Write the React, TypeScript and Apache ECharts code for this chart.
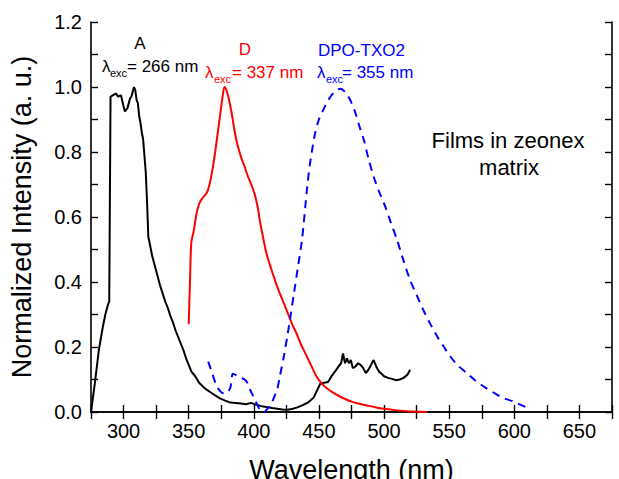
import React, { useEffect, useRef } from "react";
import * as echarts from "echarts";

const xTicks = [300, 350, 400, 450, 500, 550, 600, 650];
const yTicks = [0, 0.2, 0.4, 0.6, 0.8, 1.0, 1.2];

const aWl = [275, 278, 281, 284, 286, 288, 289, 290, 292, 294, 296, 298, 300, 301, 303, 305, 306, 307, 308, 309, 310, 311, 312, 313, 314, 315, 316, 317, 318, 319, 320, 322, 324, 326, 328, 330, 332, 334, 336, 338, 340, 342, 344, 346, 348, 350, 352, 355, 358, 361, 364, 367, 370, 374, 378, 382, 386, 390, 394, 398, 402, 406, 410, 414, 418, 422, 426, 430, 434, 438, 442, 446, 449, 451, 454, 457, 460, 463, 465, 467, 468.5, 470, 471.5, 473, 474.5, 476, 478, 480, 482, 484, 486, 488, 490, 492, 494, 496, 498, 500, 503, 506, 509, 512, 515, 518, 520];
const aVal = [0.0, 0.09, 0.19, 0.26, 0.3, 0.33, 0.34, 0.97, 0.975, 0.98, 0.97, 0.975, 0.94, 0.925, 0.935, 0.965, 0.97, 0.985, 1.0, 0.99, 0.96, 0.95, 0.91, 0.89, 0.86, 0.84, 0.79, 0.74, 0.65, 0.54, 0.52, 0.48, 0.45, 0.42, 0.39, 0.365, 0.34, 0.32, 0.295, 0.275, 0.25, 0.23, 0.21, 0.19, 0.165, 0.145, 0.125, 0.11, 0.09, 0.078, 0.068, 0.06, 0.052, 0.042, 0.035, 0.029, 0.028, 0.026, 0.024, 0.028, 0.022, 0.018, 0.015, 0.012, 0.01, 0.008, 0.007, 0.01, 0.015, 0.022, 0.03, 0.045, 0.07, 0.087, 0.09, 0.092, 0.112, 0.128, 0.14, 0.15, 0.18, 0.15, 0.165, 0.15, 0.16, 0.135, 0.14, 0.15, 0.145, 0.135, 0.12, 0.13, 0.145, 0.16, 0.14, 0.125, 0.118, 0.11, 0.105, 0.102, 0.098, 0.1, 0.105, 0.115, 0.13];

const dWl = [350, 351, 352, 354, 356, 358, 360, 362, 364, 366, 368, 370, 372, 374, 376, 377.5, 379, 381, 383, 385, 387, 389, 391, 393, 395, 397, 399, 401, 403, 405, 407, 409, 411, 413, 415, 418, 421, 424, 427, 430, 433, 436, 439, 442, 445, 448, 452, 456, 460, 465, 470, 475, 480, 487, 494, 500, 510, 518, 525, 533];
const dVal = [0.27, 0.4, 0.52, 0.56, 0.61, 0.64, 0.655, 0.665, 0.675, 0.7, 0.74, 0.79, 0.85, 0.91, 0.97, 1.0, 0.99, 0.96, 0.92, 0.87, 0.83, 0.8, 0.775, 0.755, 0.73, 0.71, 0.69, 0.665, 0.63, 0.58, 0.54, 0.5, 0.47, 0.445, 0.42, 0.385, 0.355, 0.325, 0.295, 0.265, 0.24, 0.21, 0.185, 0.16, 0.135, 0.11, 0.088, 0.073, 0.062, 0.05, 0.04, 0.032, 0.026, 0.02, 0.014, 0.01, 0.005, 0.002, 0.001, 0.0];

const tWl = [365, 368, 371, 374, 377, 380, 382, 384, 387, 390, 393, 395, 397, 400, 403, 405, 408, 410, 413, 416, 418, 420, 423, 426, 428, 431, 434, 437, 441, 443, 447, 450, 454, 458, 462, 466.5, 470, 474, 478, 481, 484.5, 488, 492, 496, 501, 505, 510, 515, 520, 525, 530, 535, 541, 546, 551, 557, 564, 570, 577, 584, 590, 595, 600, 605, 609];
const tVal = [0.155, 0.12, 0.085, 0.065, 0.057, 0.062, 0.075, 0.118, 0.112, 0.105, 0.1, 0.09, 0.07, 0.045, 0.02, 0.005, 0.0, 0.008, 0.022, 0.05, 0.07, 0.11, 0.17, 0.24, 0.29, 0.37, 0.45, 0.53, 0.693, 0.76, 0.857, 0.9, 0.935, 0.965, 0.985, 0.995, 0.985, 0.96, 0.92, 0.88, 0.837, 0.78, 0.724, 0.68, 0.631, 0.585, 0.529, 0.465, 0.406, 0.36, 0.315, 0.275, 0.231, 0.2, 0.17, 0.142, 0.118, 0.097, 0.077, 0.06, 0.046, 0.038, 0.031, 0.022, 0.015];

const FONT = "Liberation Sans, Arial, sans-serif";

const pair = (x: number[], y: number[]) => x.map((v, i) => [v, y[i]]);

export default function App() {
  const ref = useRef<HTMLDivElement>(null);
  useEffect(() => {
    if (!ref.current) return;
    const chart = echarts.init(ref.current, undefined, { renderer: "svg" });
    const axisCommon = {
      axisLine: { show: true, lineStyle: { color: "#000", width: 1.6 } },
      axisTick: { show: true, inside: true, length: 7, lineStyle: { color: "#000", width: 1.4 } },
      splitLine: { show: false },
    };
    const ann = (text: string, x: number, y: number, size: number, color: string, align = "left") => ({
      type: "text",
      x,
      y,
      style: { text, fontSize: size, fontFamily: FONT, fill: color, textAlign: align, textVerticalAlign: "middle" },
    });
    chart.setOption({
      animation: false,
      backgroundColor: "#fff",
      grid: { left: 91, right: 7, top: 22, bottom: 67, outerBoundsMode: "none", containLabel: false },
      xAxis: [
        {
          type: "value",
          min: 275,
          max: 675,
          interval: 25,
          ...axisCommon,
          axisLabel: {
            fontSize: 20,
            color: "#000",
            fontFamily: FONT,
            margin: 9,
            formatter: (v: number) => (xTicks.includes(v) ? String(v) : ""),
          },
          name: "Wavelength (nm)",
          nameLocation: "middle",
          nameGap: 44,
          nameTextStyle: { fontSize: 27, color: "#000", fontFamily: FONT },
        },
        {
          type: "value",
          position: "top",
          min: 275,
          max: 675,
          interval: 25,
          ...axisCommon,
          axisLabel: { show: false },
        },
      ],
      yAxis: [
        {
          type: "value",
          min: 0,
          max: 1.2,
          interval: 0.1,
          ...axisCommon,
          axisLabel: {
            fontSize: 20,
            color: "#000",
            fontFamily: FONT,
            margin: 9,
            formatter: (v: number) => {
              const t = yTicks.find((k) => Math.abs(k - v) < 1e-6);
              return t === undefined ? "" : t.toFixed(1);
            },
          },
          name: "Normalized Intensity (a. u.)",
          nameLocation: "middle",
          nameGap: 56,
          nameTextStyle: { fontSize: 27, color: "#000", fontFamily: FONT },
        },
        {
          type: "value",
          position: "right",
          min: 0,
          max: 1.2,
          interval: 0.1,
          ...axisCommon,
          axisLabel: { show: false },
        },
      ],
      series: [
        {
          type: "line",
          name: "A",
          data: pair(aWl, aVal),
          showSymbol: false,
          lineStyle: { color: "#000", width: 2 },
        },
        {
          type: "line",
          name: "D",
          data: pair(dWl, dVal),
          showSymbol: false,
          smooth: 0.3,
          lineStyle: { color: "#ff0000", width: 2 },
        },
        {
          type: "line",
          name: "DPO-TXO2",
          data: pair(tWl, tVal),
          showSymbol: false,
          smooth: 0.3,
          lineStyle: { color: "#0000ff", width: 2, type: [8, 6] },
        },
      ],
      graphic: [
        ann("A", 140, 43, 17, "#000", "center"),
        ann("λ", 102, 66, 17, "#000"),
        ann("exc", 110, 73, 11, "#000"),
        ann("= 266 nm", 127, 66, 17, "#000"),
        ann("D", 245, 49, 17, "#ff0000", "center"),
        ann("λ", 205, 72, 17, "#ff0000"),
        ann("exc", 214, 79, 11, "#ff0000"),
        ann("= 337 nm", 232, 72, 17, "#ff0000"),
        ann("DPO-TXO2", 318, 50, 17, "#0000ff"),
        ann("λ", 317, 72, 17, "#0000ff"),
        ann("exc", 326, 79, 11, "#0000ff"),
        ann("= 355 nm", 342, 72, 17, "#0000ff"),
        ann("Films in zeonex", 508, 140, 22, "#000", "center"),
        ann("matrix", 509, 167, 22, "#000", "center"),
      ],
    });
    return () => chart.dispose();
  }, []);
  return <div ref={ref} style={{ width: 619, height: 479, position: "absolute", left: 0, top: 0 }} />;
}
